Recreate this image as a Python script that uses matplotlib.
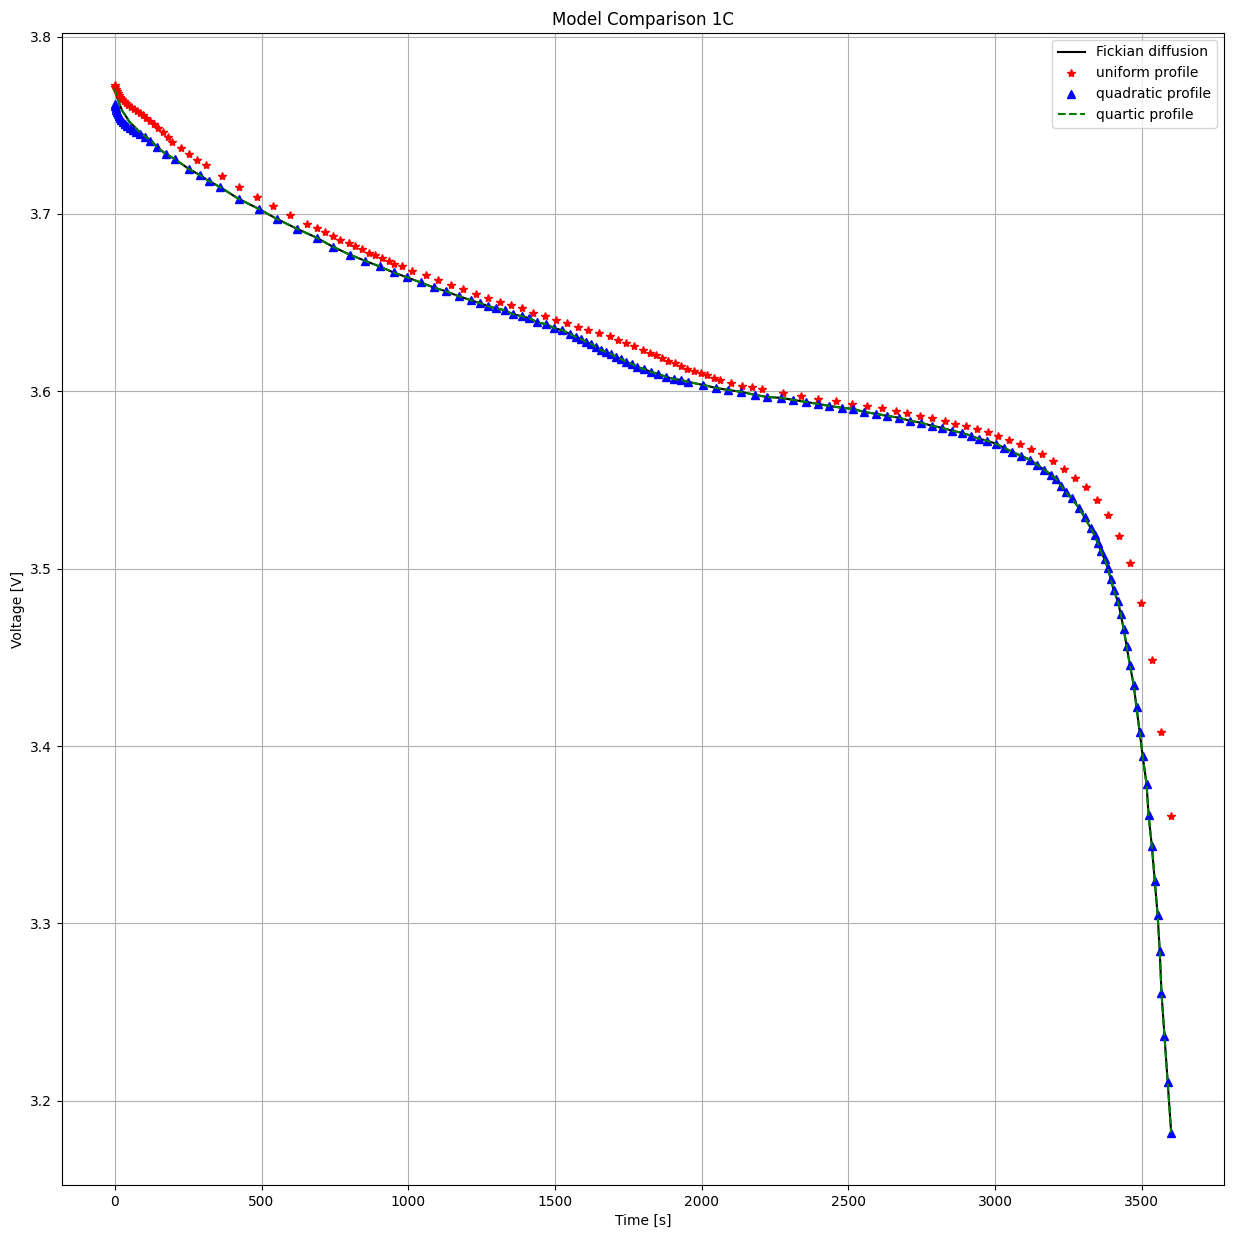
import matplotlib
matplotlib.use('Agg')
import matplotlib.pyplot as plt

# uniform profile
uni_t = [0, 2, 3, 7, 10, 14, 17, 24, 31, 37, 44, 54, 65, 75, 85, 95, 106, 119, 133, 146,
         163, 180, 194, 225, 252, 279, 310, 364, 422, 483, 538, 596, 654, 688, 715, 742,
         769, 797, 820, 844, 865, 888, 912, 933, 953, 977, 1014, 1062, 1100, 1144, 1188,
         1232, 1273, 1314, 1351, 1389, 1426, 1467, 1505, 1542, 1579, 1613, 1651, 1688,
         1716, 1743, 1770, 1801, 1825, 1845, 1865, 1886, 1910, 1930, 1951, 1974, 1998,
         2019, 2042, 2063, 2100, 2138, 2172, 2206, 2277, 2339, 2396, 2458, 2512, 2563,
         2614, 2662, 2699, 2744, 2784, 2829, 2863, 2900, 2938, 2975, 3009, 3047, 3084,
         3121, 3159, 3196, 3234, 3271, 3309, 3346, 3384, 3421, 3459, 3496, 3534, 3567, 3600]
uni_v = [3.7725, 3.7714, 3.7703, 3.7691, 3.7680, 3.7669, 3.7658, 3.7646, 3.7635, 3.7624,
         3.7613, 3.7602, 3.7590, 3.7579, 3.7568, 3.7557, 3.7540, 3.7523, 3.7506, 3.7484,
         3.7461, 3.7433, 3.7405, 3.7371, 3.7338, 3.7304, 3.7276, 3.7214, 3.7153, 3.7096,
         3.7046, 3.6995, 3.6945, 3.6922, 3.6900, 3.6878, 3.6855, 3.6838, 3.6821, 3.6805,
         3.6782, 3.6771, 3.6754, 3.6737, 3.6720, 3.6709, 3.6681, 3.6653, 3.6625, 3.6597,
         3.6575, 3.6547, 3.6524, 3.6502, 3.6485, 3.6468, 3.6440, 3.6423, 3.6401, 3.6384,
         3.6361, 3.6344, 3.6328, 3.6311, 3.6288, 3.6271, 3.6255, 3.6232, 3.6215, 3.6204,
         3.6187, 3.6170, 3.6159, 3.6142, 3.6126, 3.6114, 3.6103, 3.6092, 3.6075, 3.6064,
         3.6047, 3.6030, 3.6025, 3.6013, 3.5991, 3.5974, 3.5957, 3.5946, 3.5929, 3.5918,
         3.5907, 3.5890, 3.5879, 3.5862, 3.5851, 3.5834, 3.5817, 3.5806, 3.5789, 3.5772,
         3.5750, 3.5727, 3.5705, 3.5677, 3.5649, 3.5609, 3.5564, 3.5514, 3.5458, 3.5385,
         3.5301, 3.5183, 3.5031, 3.4807, 3.4487, 3.4077, 3.3606]

# quadratic profile
quad_t = [0, 2, 3, 5, 7, 10, 14, 17, 20, 27, 34, 41, 51, 61, 71, 85, 102, 119, 143, 174,
          204, 252, 289, 320, 357, 422, 490, 551, 620, 688, 742, 800, 851, 902, 950, 997,
          1042, 1086, 1130, 1174, 1215, 1246, 1273, 1300, 1328, 1358, 1389, 1413, 1440,
          1471, 1498, 1525, 1552, 1573, 1590, 1607, 1624, 1641, 1658, 1675, 1692, 1709,
          1726, 1743, 1763, 1780, 1804, 1828, 1852, 1879, 1906, 1930, 1954, 2005, 2049,
          2090, 2134, 2182, 2223, 2270, 2311, 2356, 2396, 2434, 2478, 2516, 2553, 2594,
          2631, 2672, 2710, 2747, 2784, 2819, 2853, 2887, 2917, 2944, 2972, 3002, 3030,
          3057, 3087, 3118, 3142, 3166, 3190, 3207, 3224, 3241, 3261, 3285, 3305, 3326,
          3339, 3350, 3360, 3373, 3384, 3394, 3404, 3418, 3428, 3438, 3448, 3459, 3472,
          3482, 3493, 3503, 3516, 3523, 3534, 3544, 3554, 3561, 3567, 3577, 3588, 3600]
quad_v = [3.7618, 3.7607, 3.7596, 3.7585, 3.7573, 3.7562, 3.7551, 3.7540, 3.7529, 3.7517,
          3.7506, 3.7495, 3.7484, 3.7472, 3.7461, 3.7450, 3.7433, 3.7411, 3.7377, 3.7338,
          3.7310, 3.7254, 3.7220, 3.7186, 3.7153, 3.7085, 3.7029, 3.6973, 3.6917, 3.6866,
          3.6816, 3.6771, 3.6737, 3.6704, 3.6670, 3.6642, 3.6614, 3.6586, 3.6563, 3.6535,
          3.6513, 3.6496, 3.6479, 3.6468, 3.6457, 3.6434, 3.6423, 3.6412, 3.6389, 3.6378,
          3.6356, 3.6344, 3.6322, 3.6305, 3.6294, 3.6277, 3.6266, 3.6249, 3.6232, 3.6221,
          3.6210, 3.6193, 3.6182, 3.6165, 3.6154, 3.6137, 3.6126, 3.6109, 3.6098, 3.6081,
          3.6069, 3.6064, 3.6053, 3.6036, 3.6019, 3.6008, 3.5997, 3.5980, 3.5968, 3.5963,
          3.5952, 3.5940, 3.5929, 3.5918, 3.5907, 3.5901, 3.5884, 3.5873, 3.5862, 3.5851,
          3.5834, 3.5823, 3.5806, 3.5794, 3.5778, 3.5766, 3.5750, 3.5733, 3.5722, 3.5705,
          3.5682, 3.5660, 3.5637, 3.5615, 3.5587, 3.5559, 3.5531, 3.5508, 3.5469, 3.5430,
          3.5396, 3.5345, 3.5289, 3.5228, 3.5188, 3.5144, 3.5099, 3.5054, 3.5003, 3.4942,
          3.4880, 3.4818, 3.4745, 3.4661, 3.4565, 3.4459, 3.4347, 3.4218, 3.4077, 3.3943,
          3.3785, 3.3611, 3.3437, 3.3241, 3.3045, 3.2843, 3.2607, 3.2366, 3.2107, 3.1821]

# Fickian / quartic: own start, then they sit on top of the quadratic points
fick_start_t = [0, 5, 10, 24, 51, 85, 129]
fick_start_v = [3.7708, 3.7670, 3.7646, 3.7585, 3.7517, 3.7461, 3.7405]
fick_t = fick_start_t + quad_t[18:]
fick_v = fick_start_v + quad_v[18:]
quart_t = fick_t
quart_v = fick_v

plt.figure(figsize=(12.33, 12.4), dpi=100)
plt.plot(fick_t, fick_v, 'k-', label='Fickian diffusion')
plt.plot(uni_t, uni_v, 'r*', label='uniform profile')
plt.plot(quad_t, quad_v, 'b^', label='quadratic profile')
plt.plot(quart_t, quart_v, 'g--', label='quartic profile')

plt.title('Model Comparison 1C')
plt.xlabel('Time [s]')
plt.ylabel('Voltage [V]')
plt.grid()
plt.legend()

# match the reference's axes box
plt.subplots_adjust(left=0.0503, right=0.9927, top=0.9734, bottom=0.0444)
plt.savefig('out.png')
